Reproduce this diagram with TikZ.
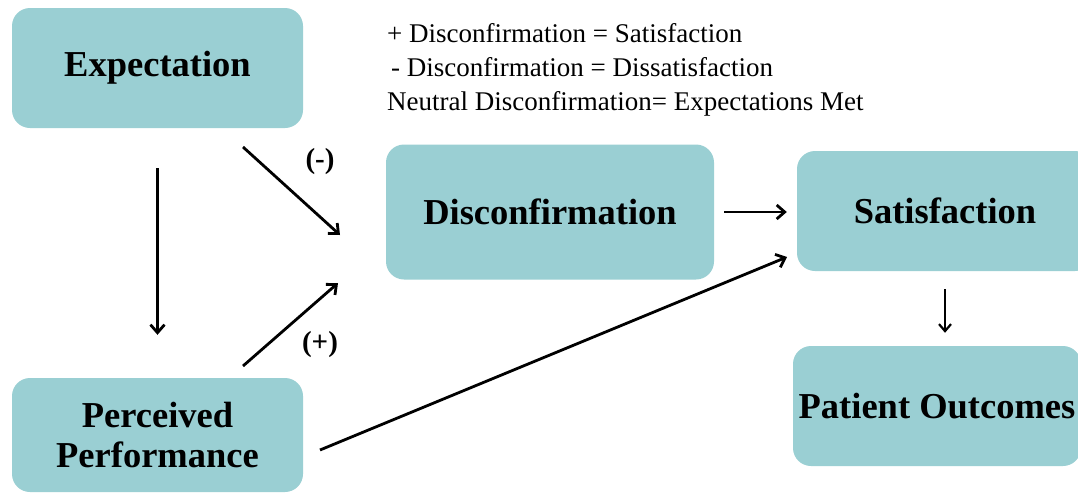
\documentclass[tikz,border=0pt]{standalone}
\usepackage{fontspec}
\setmainfont{Liberation Serif}
\usetikzlibrary{arrows.meta}
\definecolor{boxfill}{RGB}{154,207,211}
\tikzset{
  box/.style={fill=boxfill, draw=none, rounded corners=18pt, inner sep=0pt,
    font=\fontsize{36.5}{40}\selectfont\bfseries, align=center},
  conn/.style={line width=2.8pt, -{Straight Barb[length=8pt,width=14pt,line width=2.8pt]}},
  thinconn/.style={line width=2.2pt, -{Straight Barb[length=7pt,width=12pt,line width=2.2pt]}},
  legend/.style={anchor=base west, inner sep=0pt, font=\fontsize{27}{30}\selectfont},
  sign/.style={inner sep=0pt, font=\fontsize{29}{32}\selectfont\bfseries}
}
\begin{document}
\begin{tikzpicture}[x=1pt,y=-1pt]
\useasboundingbox (0,0) rectangle (1078,496);
% boxes
\node[box, minimum width=291pt, minimum height=120pt] (exp) at (157.5,68) {Expectation};
\node[box, minimum width=328pt, minimum height=135pt] (disc) at (550,212) {Disconfirmation};
\node[box, minimum width=296pt, minimum height=120pt] (sat) at (945,211) {Satisfaction};
\node[box, minimum width=288pt, minimum height=120pt] (pat) at (937,406) {Patient Outcomes};
\node[box, minimum width=291pt, minimum height=114pt] (perc) at (157.5,435) {Perceived\\Performance};
% legend
\node[legend] (l1) at (387,42) {+ Disconfirmation = Satisfaction};
\node[legend] (l2) at (391,76) {- Disconfirmation = Dissatisfaction};
\node[legend] (l3) at (387,110) {Neutral Disconfirmation= Expectations Met};
% signs
\node[sign] (minus) at (320,162) {(-)};
\node[sign] (plus) at (320,345) {(+)};
% arrow end points
\coordinate (a1) at (243,147);
\coordinate (a2) at (340,235);
\coordinate (b1) at (243,366);
\coordinate (b2) at (338,283);
\coordinate (c1) at (320,450);
\coordinate (c2) at (787,257);
% connectors
\draw[conn, shorten <=40pt, shorten >=43pt] (exp.south) -- (perc.north);
\draw[conn] (a1) -- (a2);
\draw[conn] (b1) -- (b2);
\draw[conn, shorten <=10pt, shorten >=10pt] (disc.east) -- (disc.east -| sat.west);
\draw[conn] (c1) -- (c2);
\draw[thinconn, shorten <=18pt, shorten >=13pt] (sat.south) -- (pat.north -| sat.south);
\end{tikzpicture}
\end{document}
